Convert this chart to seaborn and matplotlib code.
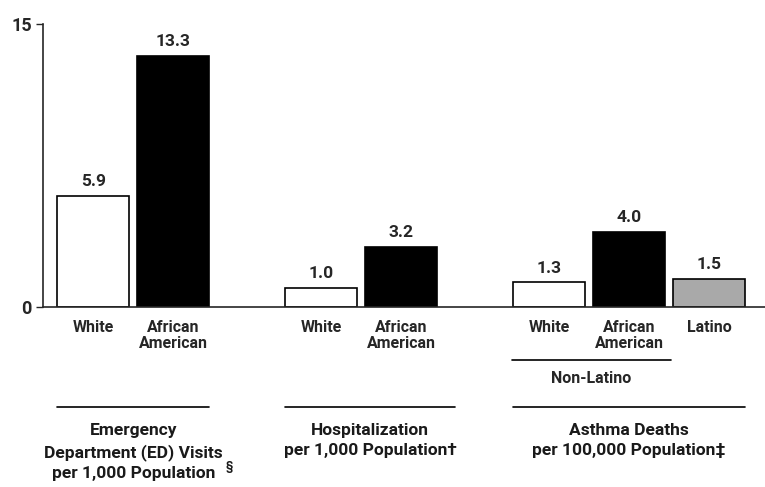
import numpy as np
import pandas as pd
import matplotlib
matplotlib.use("Agg")
import matplotlib.pyplot as plt
import matplotlib.transforms as mtransforms
import seaborn as sns

# data
groups = ["ED", "Hosp", "Deaths"]
group_races = [["White", "African\nAmerican"],
               ["White", "African\nAmerican"],
               ["White", "African\nAmerican", "Latino"]]
group_values = [[5.9, 13.3], [1.0, 3.2], [1.3, 4.0, 1.5]]
group_fills = [["white", "black"], ["white", "black"], ["white", "black", "gray"]]
group_titles = ["Emergency\nDepartment (ED) Visits\nper 1,000 Population",
                "Hospitalization\nper 1,000 Population\u2020",
                "Asthma Deaths\nper 100,000 Population\u2021"]

sns.set_style("white")
plt.rcParams['font.family'] = ['Roboto', 'DejaVu Sans']
plt.rcParams['font.weight'] = 'bold'

# build the table, bars step 1 inside a group, wider gap between groups
rows = []
pos = 0.0
for g, races, vals, fills in zip(groups, group_races, group_values, group_fills):
    for r, v, f in zip(races, vals, fills):
        rows.append({"group": g, "race": r, "value": v, "fill": f, "pos": pos})
        pos += 1
    pos += 0.85
df = pd.DataFrame(rows)

fig = plt.figure(figsize=(7.65, 4.87), dpi=100)
ax = fig.add_axes([43/765, 1 - 307/487, 1 - 43/765, 283/487])

pal = {"white": "white", "black": "black", "gray": "#a9a9a9"}
sns.barplot(data=df, x="pos", y="value", hue="fill", palette=pal,
            native_scale=True, dodge=False, width=0.9, legend=False,
            edgecolor="black", linewidth=1.2, saturation=1, ax=ax)

ax.set_xlim(-0.63, 8.4)
ax.set_ylim(0, 15)
ax.set_yticks([0, 15])
ax.set_yticklabels(["0", "15"], fontsize=13, fontweight='bold')
ax.set_xticks(df["pos"])
ax.set_xticklabels(df["race"], fontsize=11.5, fontweight='bold', linespacing=1.1)
ax.tick_params(axis='x', length=0, pad=9)
ax.tick_params(axis='y', length=5, width=1, direction='out', pad=3, left=True)
ax.set_xlabel("")
ax.set_ylabel("")
for s in ["top", "right"]:
    ax.spines[s].set_visible(False)
ax.spines["left"].set_linewidth(1.2)
ax.spines["bottom"].set_linewidth(1.2)

# value labels
for p, v in zip(df["pos"], df["value"]):
    ax.annotate(f"{v:.1f}", (p, v), xytext=(0, 5), textcoords="offset points",
                ha="center", va="bottom", fontsize=12.5, fontweight='bold')

trans = mtransforms.blended_transform_factory(ax.transData, ax.transAxes)
line_pad = [0.0, 0.22, 0.0]
for i, g in enumerate(groups):
    sub = df[df["group"] == g]
    x0 = sub["pos"].min() - 0.45
    x1 = sub["pos"].max() + 0.45 + line_pad[i]
    ax.plot([x0, x1], [-0.353, -0.353], color="black", lw=1.2,
            transform=trans, clip_on=False)
    ax.text((x0 + x1) / 2, -0.41, group_titles[i], transform=trans,
            ha="center", va="top", fontsize=12.5, fontweight='bold',
            linespacing=1.42, color="#1a1a1a")

# section mark of the first title sits a little lower, right of the text
ed = df[df["group"] == "ED"]
ax.text(ed["pos"].max() + 0.7, -0.565, "\u00a7", transform=trans,
        ha="center", va="center", fontsize=8.5, fontweight='bold', color="#1a1a1a")

# Non-Latino bracket
nl = df[(df["group"] == "Deaths") & (df["race"] != "Latino")]
x0 = nl["pos"].min() - 0.47
x1 = nl["pos"].max() + 0.52
ax.plot([x0, x1], [-0.187, -0.187], color="black", lw=1.2,
        transform=trans, clip_on=False)
ax.text((x0 + x1) / 2, -0.252, "Non-Latino", transform=trans,
        ha="center", va="center", fontsize=11.5, fontweight='bold')

fig.savefig("out.png", dpi=100)
